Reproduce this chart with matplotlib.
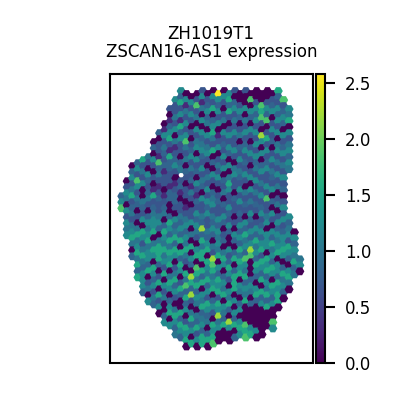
import numpy as np
import matplotlib
matplotlib.use('Agg')
import matplotlib.pyplot as plt

# spot levels per lattice column (. = no spot)
first_row = [35, 30, 25, 24, 23, 22, 17, 14, 11, 6, 3, 0, 1, 2, 1, 0, 1, 0, 1, 0, 1, 0, 1, 0, 1, 0, 1, 0, 1, 0, 3, 6, 47, 56]
column_levels = [
    "355",
    "4254352545",
    "33524623424 56453",
    "3523524352 5464564635",
    "5242532432 5365246435 553",
    "4215323422 3545645536 62445",
    "4315232312 2345562465 46535243",
    "3522143421 2322453646 6534264625 4",
    "3152432312 2212345365 4645266524 5635",
    "2413542123 3221332135 5364656346 5435635",
    "5224253412 3523123322 5346365524 6352546534",
    "5352514352 2534.23132 2435364636 5426355636 53",
    "2514252534 2423212231 2453546425 6453635426 564",
    "3525242523 5242314232 2534364536 4636254635 36",
    "4252415245 2523352132 5354235635 6463546436 254",
    "2514352534 5325243252 2435364535 6362546345 366",
    "5235342524 5232425253 5224356465 4635265346 365",
    "2524535242 6232525345 2435364265 6453635236 563",
    "2535253125 5242524232 2535454635 3656265345 63",
    "2525242523 2525232453 2536236465 6354635436 54",
    "5235242525 3252425225 3253645236 5265463545 65",
    "2535242522 5234522432 2523536365 3656354536 53",
    "2525352423 2524325252 3253536465 6354635456 5",
    "2535242523 5232523423 2453645365 4635463565 64",
    "2525325252 5242525242 5325356465 6354635345 6",
    "2525352525 2534252423 2525364536 5345635426 54",
    "5252425352 5235242523 5235356265 3656356466 5",
    "2525353252 5235225232 2453555365 6354635665",
    "5235325235 2524325232 5235364536 5465356545",
    "6325352534 5242524324 3253545635 5365645",
    "5235325235 2425235252 5235565436 4536",
    "54635245354 ....... 5345265335 645",
    "45354634",
    "454",
]
level_values = [0.0, 0.3, 0.68, 0.82, 1.0, 1.22, 1.55, 1.85, 2.2, 2.58]

# brightest spots
bright_col = [18, 11, 14, 11, 12, 9, 7, 9, 4, 20, 24, 30, 26, 26, 26, 27, 20, 17, 26, 27, 17, 3, 0, 6, 9, 15, 15, 15, 4, 7,
              13, 13, 12, 14, 3, 14, 27, 24, 23, 24, 17, 17, 18, 20, 17, 23, 23, 28, 29, 27, 17, 21, 20, 18, 20]
bright_row = [1, 4, 5, 12, 17, 16, 24, 22, 23, 3, 3, 3, 5, 7, 9, 10, 7, 6, 15, 16, 14, 30, 39, 35, 44, 46, 54, 56, 55, 56,
              62, 68, 65, 59, 62, 65, 36, 53, 56, 55, 56, 58, 75, 77, 84, 78, 82, 77, 70, 72, 66, 64, 71, 71, 31]
bright_level = [9, 6, 7, 6, 7, 6, 7, 6, 6, 6, 7, 7, 7, 6, 7, 7, 6, 6, 8, 6, 6, 7, 7, 6, 6, 8, 6, 6, 6, 6,
                8, 8, 7, 7, 6, 6, 7, 8, 7, 7, 8, 7, 8, 8, 7, 7, 7, 7, 6, 6, 6, 6, 6, 6, 6]

# zero expression spots
dark_col = [14, 16, 12, 13, 17, 19, 22, 25, 27, 21, 22, 23, 23, 24, 25, 26, 26, 27, 28, 24,
            17, 19, 20, 23, 24, 26, 19, 31, 29, 28, 26, 17, 18, 20, 21, 22, 26, 24, 17, 20,
            19, 21, 17, 18, 23, 24, 28, 29, 30, 28, 21, 21, 19, 25, 27, 28, 32, 19, 20, 21,
            17, 20, 24, 24, 24, 29, 31, 33, 30, 18, 21,
            1, 4, 4, 1, 6, 9, 9, 8, 7, 6, 13, 13, 12, 11, 12, 13, 2, 14, 13, 10,
            13, 14, 15, 7, 6, 7, 8, 9, 6, 5, 15, 14, 15, 13, 16, 13, 14, 10, 11, 2,
            5, 5, 9, 11, 10, 8, 8, 7, 9, 12, 13, 16, 13, 12, 14, 11,
            23, 23, 23, 24, 24, 24, 25, 25, 25, 25, 26, 26, 26, 26, 27, 27, 27, 28, 28,
            30, 31, 29, 17, 17, 20, 18, 18, 19, 19, 20, 20, 21, 25, 26, 25, 21, 22, 19, 24, 21, 16,
            6, 8, 10, 12, 14, 16, 10, 18, 22, 24, 28, 30, 15, 19, 23, 27, 5, 9, 3, 7,
            11, 15, 25, 29, 22, 26, 4, 8, 12, 16, 20, 24, 28, 3, 11, 19, 27, 6, 14, 22]
dark_row = [1, 1, 1, 2, 0, 0, 1, 0, 0, 2, 3, 2, 4, 1, 2, 1, 3, 2, 1, 5,
            8, 6, 11, 8, 11, 13, 12, 12, 16, 19, 19, 22, 21, 23, 24, 17, 23, 25, 26, 27,
            28, 34, 32, 33, 32, 31, 35, 34, 35, 39, 42, 46, 46, 42, 46, 45, 47, 52, 51, 52,
            50, 49, 57, 59, 61, 56, 58, 60, 57, 57, 58,
            30, 33, 35, 38, 31, 38, 40, 43, 48, 49, 46, 50, 31, 36, 37, 38, 53, 51, 54, 57,
            60, 57, 58, 60, 17, 16, 11, 8, 21, 26, 8, 11, 12, 12, 13, 16, 21, 15, 22, 25,
            62, 68, 68, 70, 71, 71, 73, 74, 76, 75, 72, 79, 82, 85, 85, 72,
            72, 74, 76, 73, 75, 77, 72, 74, 76, 78, 73, 75, 77, 79, 74, 76, 78, 73, 75,
            69, 66, 72, 68, 76, 75, 81, 83, 80, 82, 81, 83, 80, 82, 81, 84, 68, 69, 60, 61, 72, 85,
            27, 33, 29, 25, 29, 25, 41, 13, 11, 17, 9, 13, 34, 36, 42, 12, 40, 60, 44, 66,
            52, 66, 64, 40, 63, 65, 45, 63, 59, 55, 65, 69, 63, 40, 62, 70, 54, 57, 73, 75]

# colorbar ticks
cbar_ticks = [0.0, 0.5, 1.0, 1.5, 2.0, 2.5]
title_lines = "ZH1019T1\nZSCAN16-AS1 expression"

# put the strings on the lattice
spots = {}
for c, (r0, s) in enumerate(zip(first_row, column_levels)):
    s = s.replace(" ", "")
    for k, ch in enumerate(s):
        if ch != '.':
            spots[(c, r0 + 2 * k)] = int(ch)
for c, r, lev in zip(bright_col, bright_row, bright_level):
    if (c, r) in spots:
        spots[(c, r)] = lev
for c, r in zip(dark_col, dark_row):
    if (c, r) in spots:
        spots[(c, r)] = 0

array_col = np.array([k[0] for k in spots])
array_row = np.array([k[1] for k in spots])
expr = np.array([level_values[v] for v in spots.values()])

plt.rcParams['font.family'] = 'DejaVu Sans'
fig = plt.figure(figsize=(4, 4), dpi=100)
ax = fig.add_axes([110 / 400, 37.5 / 400, 202.5 / 400, 288.5 / 400])
cax = fig.add_axes([316 / 400, 37.5 / 400, 9 / 400, 288.5 / 400])

pts = ax.scatter(array_col, array_row, c=expr, s=42, marker='H', cmap='viridis',
                 vmin=0, vmax=2.58, linewidths=0)
ax.set_xlim(-2.18, 35.34)
ax.set_ylim(90.33, -5.67)
ax.set_xticks([])
ax.set_yticks([])
for sp in ax.spines.values():
    sp.set_linewidth(1.5)
ax.set_title(title_lines, fontsize=12, pad=12, linespacing=1.05)

cb = fig.colorbar(pts, cax=cax)
cb.set_ticks(cbar_ticks)
cb.ax.tick_params(length=7, width=1.5, labelsize=12, pad=7.5)
cb.outline.set_linewidth(1.5)

fig.savefig('out.png', dpi=100)
